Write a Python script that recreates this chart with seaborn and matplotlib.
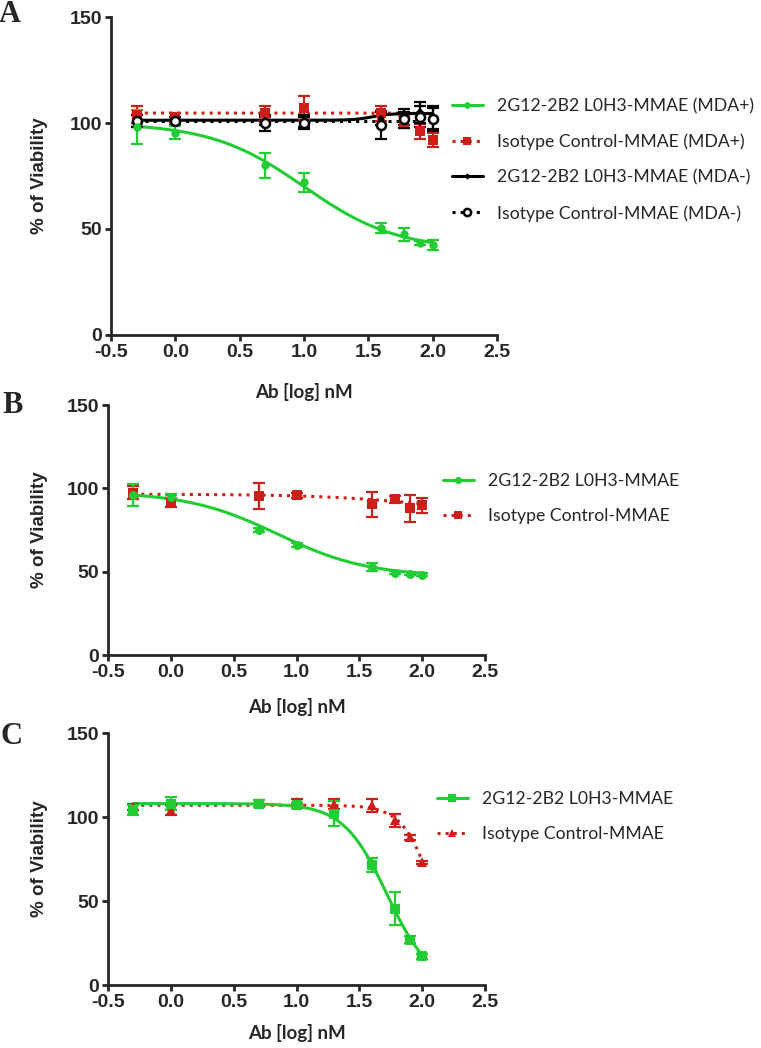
import numpy as np
import pandas as pd
import matplotlib
matplotlib.use("Agg")
import matplotlib.pyplot as plt
from matplotlib.lines import Line2D
import seaborn as sns

sns.set_style("ticks")
plt.rcParams['font.family'] = ['Liberation Sans', 'DejaVu Sans']
plt.rcParams['axes.unicode_minus'] = False

GREEN = "#22cc33"
RED = "#cc1f1a"
BLACK = "#000000"

# log10 of antibody concentration (nM)
log_dose = [-0.3, 0.0, 0.7, 1.0, 1.6, 1.78, 1.9, 2.0]
log_dose_c = [-0.3, 0.0, 0.7, 1.0, 1.3, 1.6, 1.78, 1.9, 2.0]

# Panel A: MDA+ / MDA- cells
a_adc_pos = [98, 95.5, 80, 72, 50.5, 47.5, 43.5, 42.5]
a_adc_pos_err = [8, 3, 6, 4.5, 2.5, 3, 1, 2.5]
a_iso_pos = [104, 102.5, 104.5, 107, 104.5, 100.5, 96, 92]
a_iso_pos_err = [4, 2, 3.5, 5.5, 3.5, 3, 3.5, 3.5]
a_adc_neg = [101, 101, 101, 101, 102, 102, 105, 102]
a_adc_neg_err = [3, 2, 2, 3, 3, 4.5, 5, 5]
a_iso_neg = [101, 101, 100, 100, 99, 102, 103, 102]
a_iso_neg_err = [3, 2, 4, 3, 6.5, 3, 5, 6]

# Panel B
b_adc = [96, 95, 75, 66, 52.8, 49.5, 48.8, 48.3]
b_adc_err = [6.5, 1.5, 1, 1, 2.5, 1, 1, 1]
b_iso = [97.5, 91.5, 95.5, 96, 90.5, 93.5, 88, 90]
b_iso_err = [4, 2.5, 8, 1.5, 7.5, 2, 8, 4.5]

# Panel C
c_adc = [104, 108, 108, 107, 102, 71.5, 45.5, 27, 17]
c_adc_err = [3, 4, 2, 1.5, 7.5, 4, 10, 2, 1.5]
c_iso = [106, 104, 108, 109, 108, 107, 98, 88, 73]
c_iso_err = [2, 3, 2, 1.5, 3, 4, 4, 1.5, 1]

# 4PL fit results: top, bottom, logIC50, hill
fit_a_adc_pos = (100, 40, 1.0, 1.2)
fit_a_iso_pos = (104.7, 90, 2.3, 5)
fit_a_adc_neg = (101.3, 104.5, 1.53, 6)
fit_a_iso_neg = (101, 101, 1.0, 1.0)
fit_b_adc = (98, 47, 0.85, 1.2)
fit_b_iso = (96.5, 85, 2.0, 1.0)
fit_c_adc = (108, 0, 1.72, 2.5)
fit_c_iso = (107, 0, 2.1, 3.5)


def four_pl(x, top, bottom, logic50, hill):
    return bottom + (top - bottom) / (1 + 10 ** ((x - logic50) * hill))


def draw_series(ax, x, y, err, fit, color, marker, ls, ms, face=None, mew=0):
    xx = np.linspace(min(x), max(x), 300)
    curve = pd.DataFrame({'x': xx, 'y': four_pl(xx, *fit)})
    sns.lineplot(data=curve, x='x', y='y', ax=ax, color=color, linestyle=ls,
                 linewidth=2.2, zorder=2)
    ax.errorbar(x, y, yerr=err, fmt='none', ecolor=color, elinewidth=1.6,
                capsize=4.5, capthick=1.6, zorder=3)
    ax.plot(x, y, linestyle='none', marker=marker, markersize=ms,
            markerfacecolor=face if face else color, markeredgecolor=color,
            markeredgewidth=mew, zorder=4)
    return Line2D([0], [0], color=color, linestyle=ls, linewidth=2.2,
                  marker=marker, markersize=ms * 0.8,
                  markerfacecolor=face if face else color,
                  markeredgecolor=color, markeredgewidth=mew)


def style_axes(ax, ylab_x, xpad):
    ax.set_xlim(-0.5, 2.5)
    ax.set_ylim(0, 150)
    ax.set_xticks([-0.5, 0.0, 0.5, 1.0, 1.5, 2.0, 2.5])
    ax.set_xticklabels(['-0.5', '0.0', '0.5', '1.0', '1.5', '2.0', '2.5'])
    ax.set_yticks([0, 50, 100, 150])
    sns.despine(ax=ax)
    for s in ['left', 'bottom']:
        ax.spines[s].set_linewidth(2.0)
    ax.tick_params(width=2.0, length=4.5, labelsize=14, pad=2)
    for lab in ax.get_xticklabels() + ax.get_yticklabels():
        lab.set_fontweight('bold')
    ax.set_ylabel('% of Viability', fontsize=13.5, fontweight='bold')
    ax.yaxis.set_label_coords(ylab_x, 0.5)
    ax.set_xlabel('Ab [log] nM', fontsize=13.5, fontweight='bold',
                  family='Lato', labelpad=xpad)


fig = plt.figure(figsize=(7.61, 10.48), dpi=100)
W, H = 761, 1048

def add_axes(l, r, top, bot):
    return fig.add_axes([l / W, 1 - bot / H, (r - l) / W, (bot - top) / H])

ax_a = add_axes(111, 497, 17, 335)
ax_b = add_axes(108, 485, 405, 655)
ax_c = add_axes(108, 485, 733, 985)

# Panel A
h1 = draw_series(ax_a, log_dose, a_iso_pos, a_iso_pos_err, fit_a_iso_pos, RED, 's', ':', 6.5)
h3 = draw_series(ax_a, log_dose, a_adc_neg, a_adc_neg_err, fit_a_adc_neg, BLACK, 'D', '-', 4)
h4 = draw_series(ax_a, log_dose, a_iso_neg, a_iso_neg_err, fit_a_iso_neg, BLACK, 'o', ':', 6.5, face='white', mew=1.8)
h0 = draw_series(ax_a, log_dose, a_adc_pos, a_adc_pos_err, fit_a_adc_pos, GREEN, 'o', '-', 6)
style_axes(ax_a, -0.163, 16)

# Panel B
hb1 = draw_series(ax_b, log_dose, b_iso, b_iso_err, fit_b_iso, RED, 's', ':', 6.5)
hb0 = draw_series(ax_b, log_dose, b_adc, b_adc_err, fit_b_adc, GREEN, 'o', '-', 6.5)
style_axes(ax_b, -0.159, 12)

# Panel C
hc1 = draw_series(ax_c, log_dose_c, c_iso, c_iso_err, fit_c_iso, RED, '^', ':', 6.5)
hc0 = draw_series(ax_c, log_dose_c, c_adc, c_adc_err, fit_c_adc, GREEN, 's', '-', 7)
style_axes(ax_c, -0.159, 9)

leg_kw = dict(frameon=False, loc='upper left', handlelength=1.75, handletextpad=0.8,
              borderpad=0, borderaxespad=0, labelspacing=1.1,
              prop={'family': 'Lato', 'size': 12.7})
fig.legend([h0, h1, h3, h4],
           ['2G12-2B2 L0H3-MMAE (MDA+)', 'Isotype Control-MMAE (MDA+)',
            '2G12-2B2 L0H3-MMAE (MDA-)', 'Isotype Control-MMAE (MDA-)'],
           bbox_to_anchor=(452 / W, 1 - 98 / H), **leg_kw)
fig.legend([hb0, hb1], ['2G12-2B2 L0H3-MMAE', 'Isotype Control-MMAE'],
           bbox_to_anchor=(443 / W, 1 - 473 / H), **leg_kw)
fig.legend([hc0, hc1], ['2G12-2B2 L0H3-MMAE', 'Isotype Control-MMAE'],
           bbox_to_anchor=(437 / W, 1 - 791 / H), **leg_kw)

for letter, (px, py) in zip('ABC', [(10, 14), (13, 405), (12, 737)]):
    fig.text(px / W, 1 - py / H, letter, fontsize=22, fontweight='bold',
             family='Liberation Serif', ha='center', va='center')

fig.savefig('out.png', dpi=100)
